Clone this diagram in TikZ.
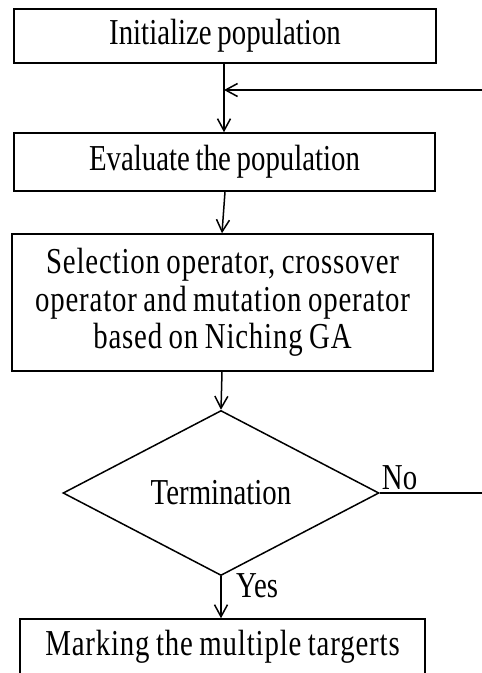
\documentclass[tikz,border=0pt]{standalone}
\usepackage{fontspec}
\setmainfont[FakeStretch=0.79,WordSpace=0.8]{Liberation Serif}
\newfontfamily\spacedfont[FakeStretch=0.79,WordSpace=0.8,LetterSpace=2.3]{Liberation Serif}
\usetikzlibrary{shapes.geometric,arrows.meta}
\begin{document}
\begin{tikzpicture}[x=1pt,y=-1pt,
  every node/.style={font=\fontsize{36.5}{37.5}\selectfont},
  spaced/.style={font=\spacedfont\fontsize{36.5}{37.5}\selectfont},
  procbox/.style={draw,line width=1.5pt,inner sep=0pt,align=center},
  decision/.style={draw,diamond,line width=1.5pt,inner sep=0pt,minimum width=316pt,minimum height=158pt},
  flow/.style={line width=1.5pt,-{Straight Barb[length=12pt,width=13pt,line width=1.5pt]}},
  plain/.style={line width=1.5pt}]
\useasboundingbox (0,0) rectangle (482,673);
\node[procbox,minimum width=422pt,minimum height=54pt] (b1) at (225,36) {Initialize population};
\node[procbox,minimum width=421pt,minimum height=58pt] (b2) at (224.5,162) {Evaluate the population};
\node[procbox,spaced,minimum width=421pt,minimum height=137pt] (b3) at (222.5,302.5)
  {Selection operator, crossover\\operator and mutation operator\\based on Niching GA};
\node[decision] (dia) at (221,493) {Termination};
\node[procbox,spaced,minimum width=405pt,minimum height=56pt] (b4) at (222.5,647) {Marking the multiple targerts};
\coordinate (fbR) at (482,493);
\coordinate (fbT) at (482,90);
\coordinate (fbJ) at (224,90);
\draw[flow] ([xshift=-1pt]b1.south) -- ([xshift=-0.5pt]b2.north);
\draw[flow] ([xshift=0.5pt]b2.south) -- ([xshift=-0.5pt]b3.north);
\draw[flow] ([xshift=-0.5pt]b3.south) -- (dia.north);
\draw[flow] (dia.south) -- ([xshift=-1.5pt]b4.north);
\draw[plain] (dia.east) -- (fbR);
\draw[flow] (fbT) -- (fbJ);
\node[anchor=base west,inner sep=0pt] (no) at ([xshift=2pt,yshift=4pt]dia.east) {No};
\node[anchor=base west,inner sep=0pt] (yes) at (236,597) {Yes};
\end{tikzpicture}
\end{document}
